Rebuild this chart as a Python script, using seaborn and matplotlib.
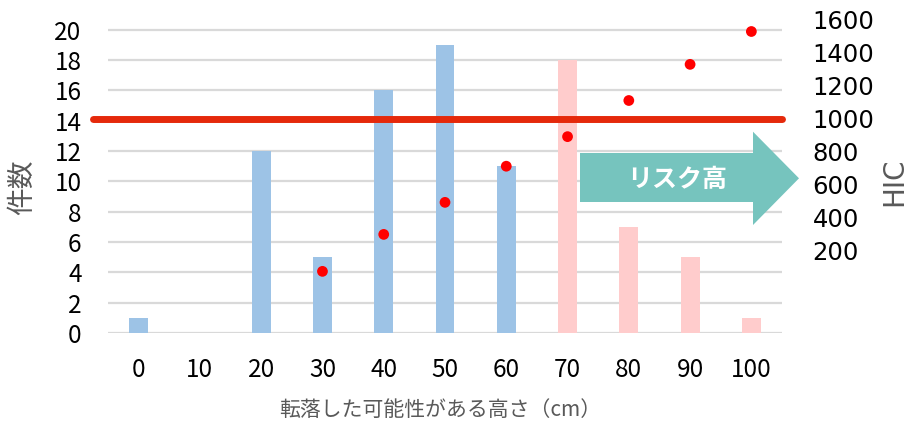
import numpy as np
import pandas as pd
import seaborn as sns
import matplotlib
matplotlib.use("Agg")
import matplotlib.pyplot as plt
from matplotlib.patches import Polygon

# Fall heights (cm), incident counts and HIC values
heights = ["0", "10", "20", "30", "40", "50", "60", "70", "80", "90", "100"]
counts = [1, 0, 12, 5, 16, 19, 11, 18, 7, 5, 1]
hic_heights = ["30", "40", "50", "60", "70", "80", "90", "100"]
hic_values = [70, 295, 490, 710, 890, 1110, 1330, 1530]
hic_threshold = 1000
count_ticks = list(range(0, 21, 2))
hic_ticks = list(range(200, 1601, 200))

BLUE = "#9DC3E6"
PINK = "#FFCCCC"
RED_LINE = "#E5290B"
DOT = "#FF0000"
TEAL = "#76C4BE"
GRID = "#D9D9D9"
GRAY = "#595959"

sns.set_theme(style="white")
plt.rcParams["font.family"] = ["Noto Sans CJK JP", "DejaVu Sans"]

W, H = 908, 425
fig = plt.figure(figsize=(W / 100, H / 100), dpi=100)
ax = fig.add_axes([108 / W, 1 - 333 / H, (782 - 108) / W, (333 - 14.4) / H])

df = pd.DataFrame({"height": heights, "count": counts})
bar_colors = [BLUE if int(h) < 70 else PINK for h in heights]
sns.barplot(data=df, x="height", y="count", hue="height", order=heights,
            palette=bar_colors, width=0.31, legend=False, ax=ax, saturation=1,
            linewidth=0, edgecolor="none")

ax.set_xlim(-0.5, len(heights) - 0.5)
ax.set_ylim(0, 21)
ax.set_yticks(count_ticks)
ax.set_yticklabels([str(t) for t in count_ticks])
for t in count_ticks:
    ax.axhline(t, color=GRID, lw=1.6, zorder=0)
ax.set_axisbelow(True)
for s in ax.spines.values():
    s.set_visible(False)
ax.tick_params(axis="both", length=0, labelsize=17.5, colors="black")
ax.tick_params(axis="y", pad=19)
ax.tick_params(axis="x", pad=17)
ax.set_xlabel("")
ax.set_ylabel("")

# HIC on the secondary axis
ax2 = ax.twinx()
lo = 200 - (333 - 250) / (230 / 1400)
hi = 1600 + (20 - 14.4) / (230 / 1400)
ax2.set_ylim(lo, hi)
hic_df = pd.DataFrame({"x": [heights.index(h) for h in hic_heights], "hic": hic_values})
sns.scatterplot(data=hic_df, x="x", y="hic", color=DOT, s=60, edgecolor="none",
                ax=ax2, zorder=5)
ax2.set_yticks(hic_ticks)
ax2.set_yticklabels([str(t) for t in hic_ticks], family="DejaVu Sans")
ax2.tick_params(axis="y", length=0, labelsize=17.5, pad=22, colors="black")
for s in ax2.spines.values():
    s.set_visible(False)
ax2.set_ylabel("")
ax2.grid(False)

# HIC threshold line extending slightly past the plot
x0 = ax2.transAxes.inverted().transform(fig.transFigure.transform((93 / W, 0)))[0]
ax2.plot([x0, 1.0], [hic_threshold, hic_threshold], color=RED_LINE, lw=5,
         transform=ax2.get_yaxis_transform(), clip_on=False, zorder=4)

# "High risk" arrow
pts = [(580, 153), (753, 153), (753, 131.7), (799, 178.3), (753, 225),
       (753, 202), (580, 202)]
arrow = Polygon([(x / W, 1 - y / H) for x, y in pts], closed=True,
                transform=fig.transFigure, facecolor=TEAL, edgecolor="none", zorder=6)
fig.patches.append(arrow)
fig.text(677 / W, 1 - 180 / H, "リスク高", color="white", fontsize=18,
         fontweight="bold", ha="center", va="center", zorder=7)

# Axis titles
fig.text(440 / W, 1 - 410 / H, "転落した可能性がある高さ（cm）", color=GRAY,
         fontsize=15, ha="center", va="center")
fig.text(22 / W, 1 - 187 / H, "件数", color=GRAY, fontsize=20, rotation=90,
         ha="center", va="center")
fig.text(894 / W, 1 - 182 / H, "HIC", color=GRAY, fontsize=20, rotation=90,
         ha="center", va="center", family="DejaVu Sans")

fig.savefig("out.png", dpi=100)
